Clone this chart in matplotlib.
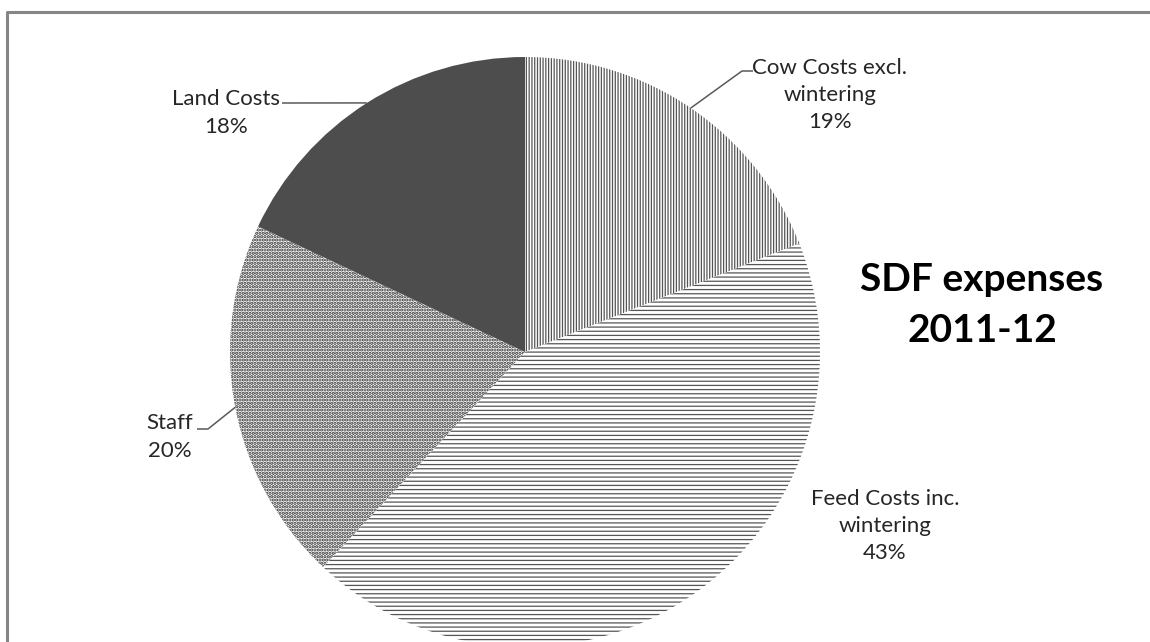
import matplotlib
matplotlib.use("Agg")
import matplotlib.pyplot as plt
import numpy as np

# data
categories = ["Cow Costs excl.\nwintering", "Feed Costs inc.\nwintering", "Staff", "Land Costs"]
shares = [19, 43, 20, 18]
hatches = ["||||||", "----", ".....", None]
fills = ["white", "white", "white", "#4d4d4d"]
hatch_cols = ["#555555", "#555555", "#2a2a2a", "#4d4d4d"]
hatch_lws = [0.9, 0.9, 1.6, 0.9]
title = "SDF expenses\n2011-12"

plt.rcParams["font.family"] = ["Lato", "DejaVu Sans"]
plt.rcParams["hatch.linewidth"] = 0.9

W, H = 1150, 642
fig = plt.figure(figsize=(W / 100, H / 100), dpi=100)
ax = fig.add_axes([0, 0, 1, 1])

cx, cy, r = 525, H - 352, 295
wedges, _ = ax.pie(shares, startangle=90, counterclock=False,
                   center=(cx, cy), radius=r)
for w, h, fc, hc, hl in zip(wedges, hatches, fills, hatch_cols, hatch_lws):
    w.set_facecolor(fc)
    w.set_edgecolor(hc)
    w.set_linewidth(0)
    if h:
        w.set_hatch(h)
        if hasattr(w, "set_hatch_linewidth"):
            w.set_hatch_linewidth(hl)

ax.set_xlim(0, W)
ax.set_ylim(0, H)
ax.set_aspect("auto")
ax.axis("off")

# label block centres (px, from top) and leader elbow points
label_pos = [(830, 95), (885, 526), (170, 437), (226, 113)]
elbows = [[(742, 71), (753, 71)], None, [(208, 429), (197, 429)], [(282, 103)]]

for w, lab, s, (lx, ly), elb in zip(wedges, categories, shares, label_pos, elbows):
    ax.text(lx, H - ly, f"{lab}\n{s}%", ha="center", va="center",
            fontsize=16, color="#262626", linespacing=1.45)
    if elb:
        mid = np.deg2rad((w.theta1 + w.theta2) / 2)
        xs = [cx + r * np.cos(mid)] + [p[0] for p in elb]
        ys = [cy + r * np.sin(mid)] + [H - p[1] for p in elb]
        ax.plot(xs, ys, color="#595959", lw=1.1, solid_capstyle="butt")

ax.text(982, H - 305, title, ha="center", va="center", fontsize=28,
        fontweight="bold", color="black", linespacing=1.55)

# chart frame (only top and left edges are in view)
ax.plot([7, 7, W], [0, H - 12, H - 12], color="#868686", lw=2.2)

fig.savefig("out.png", dpi=100)
